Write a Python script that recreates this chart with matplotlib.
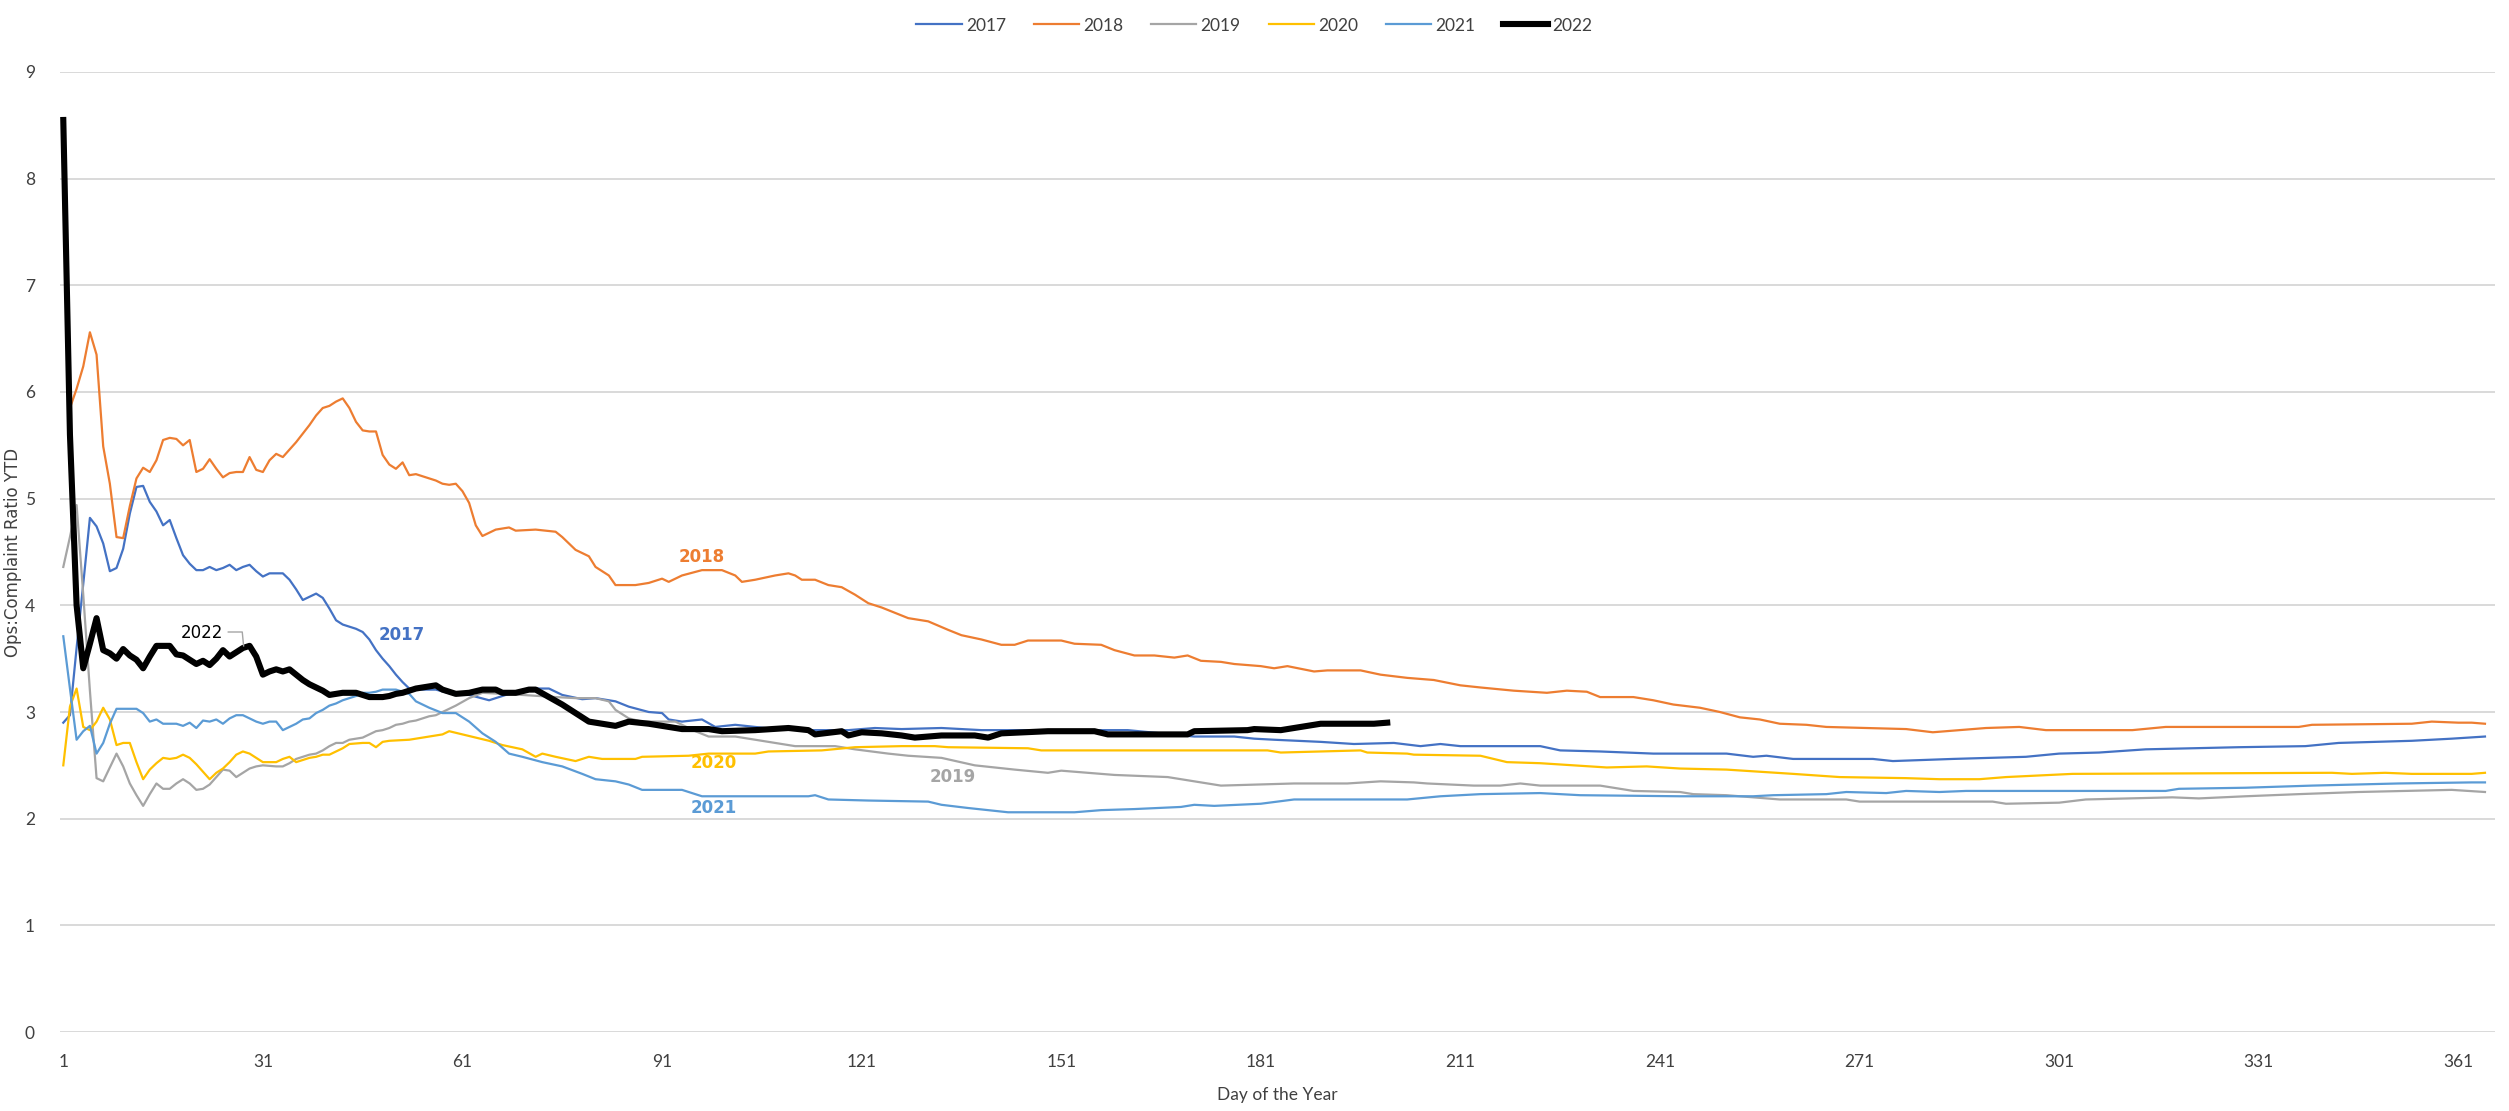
import matplotlib
matplotlib.use('Agg')
import matplotlib.pyplot as plt

# Series colours (Excel default palette)
colors = {'2017': '#4472C4', '2018': '#ED7D31', '2019': '#A5A5A5',
          '2020': '#FFC000', '2021': '#5B9BD5', '2022': '#000000'}

# Values (day of year, ratio)
days_2017 = [1, 2, 3, 4, 5, 6, 7, 8, 9, 10, 11, 12, 13, 14, 15, 16, 17, 18, 19, 20,
             21, 22, 23, 24, 25, 26, 27, 28, 29, 30, 31, 32, 33, 34, 35, 36, 37, 38, 39, 40,
             41, 42, 43, 44, 45, 46, 47, 48, 49, 50, 51, 52, 53, 55, 57, 60, 62, 65, 67, 69,
             72, 74, 76, 79, 81, 84, 86, 89, 91, 92, 94, 97, 99, 102, 105, 108, 113, 119, 123, 127,
             133, 139, 145, 161, 171, 177, 180, 183, 190, 195, 201, 205, 208, 211, 217, 223, 226, 232, 240, 251,
             255, 257, 261, 273, 276, 285, 296, 301, 307, 314, 328, 338, 343, 354, 360, 365]
vals_2017 = [2.90, 2.97, 3.60, 4.20, 4.82, 4.74, 4.58, 4.32, 4.35, 4.53, 4.86, 5.11, 5.12, 4.97, 4.88, 4.75, 4.80, 4.63, 4.47, 4.39,
             4.33, 4.33, 4.36, 4.33, 4.35, 4.38, 4.33, 4.36, 4.38, 4.32, 4.27, 4.30, 4.30, 4.30, 4.24, 4.15, 4.05, 4.08, 4.11, 4.07,
             3.97, 3.86, 3.82, 3.80, 3.78, 3.75, 3.68, 3.58, 3.50, 3.43, 3.35, 3.28, 3.22, 3.21, 3.21, 3.16, 3.16, 3.11, 3.15, 3.19,
             3.22, 3.22, 3.16, 3.12, 3.13, 3.10, 3.05, 3.00, 2.99, 2.93, 2.91, 2.93, 2.86, 2.88, 2.86, 2.84, 2.83, 2.83, 2.85, 2.84,
             2.85, 2.83, 2.83, 2.83, 2.77, 2.77, 2.75, 2.74, 2.72, 2.70, 2.71, 2.68, 2.70, 2.68, 2.68, 2.68, 2.64, 2.63, 2.61, 2.61,
             2.58, 2.59, 2.56, 2.56, 2.54, 2.56, 2.58, 2.61, 2.62, 2.65, 2.67, 2.68, 2.71, 2.73, 2.75, 2.77]

days_2018 = [1, 2, 3, 4, 5, 6, 7, 8, 9, 10, 11, 12, 13, 14, 15, 16, 17, 18, 19, 20,
             21, 22, 23, 24, 25, 26, 27, 28, 29, 30, 31, 32, 33, 34, 35, 36, 37, 38, 39, 40,
             41, 42, 43, 44, 45, 46, 47, 48, 49, 50, 51, 52, 53, 54, 55, 56, 57, 58, 59, 60,
             61, 62, 63, 64, 65, 66, 68, 69, 72, 75, 76, 78, 80, 81, 83, 84, 87, 89, 91, 92,
             94, 97, 100, 102, 103, 105, 108, 110, 111, 112, 114, 116, 118, 120, 122, 124, 126, 128, 131, 134,
             136, 139, 142, 144, 146, 151, 153, 157, 159, 162, 165, 168, 170, 172, 175, 177, 179, 181, 183, 185,
             189, 191, 196, 199, 203, 207, 211, 214, 219, 224, 227, 230, 232, 237, 240, 243, 247, 250, 253, 256,
             259, 263, 266, 272, 278, 282, 286, 290, 295, 299, 312, 317, 337, 339, 354, 357, 361, 363, 365]
vals_2018 = [7.90, 5.85, 6.03, 6.24, 6.56, 6.35, 5.49, 5.14, 4.64, 4.63, 4.93, 5.19, 5.29, 5.25, 5.36, 5.55, 5.57, 5.56, 5.50, 5.55,
             5.25, 5.28, 5.37, 5.28, 5.20, 5.24, 5.25, 5.25, 5.39, 5.27, 5.25, 5.36, 5.42, 5.39, 5.46, 5.53, 5.61, 5.69, 5.78, 5.85,
             5.87, 5.91, 5.94, 5.85, 5.72, 5.64, 5.63, 5.63, 5.41, 5.32, 5.28, 5.34, 5.22, 5.23, 5.21, 5.19, 5.17, 5.14, 5.13, 5.14,
             5.07, 4.96, 4.75, 4.65, 4.68, 4.71, 4.73, 4.70, 4.71, 4.69, 4.64, 4.52, 4.46, 4.36, 4.28, 4.19, 4.19, 4.21, 4.25, 4.22,
             4.28, 4.33, 4.33, 4.28, 4.22, 4.24, 4.28, 4.30, 4.28, 4.24, 4.24, 4.19, 4.17, 4.10, 4.02, 3.98, 3.93, 3.88, 3.85, 3.77,
             3.72, 3.68, 3.63, 3.63, 3.67, 3.67, 3.64, 3.63, 3.58, 3.53, 3.53, 3.51, 3.53, 3.48, 3.47, 3.45, 3.44, 3.43, 3.41, 3.43,
             3.38, 3.39, 3.39, 3.35, 3.32, 3.30, 3.25, 3.23, 3.20, 3.18, 3.20, 3.19, 3.14, 3.14, 3.11, 3.07, 3.04, 3.00, 2.95, 2.93,
             2.89, 2.88, 2.86, 2.85, 2.84, 2.81, 2.83, 2.85, 2.86, 2.83, 2.83, 2.86, 2.86, 2.88, 2.89, 2.91, 2.90, 2.90, 2.89]

days_2019 = [1, 2, 3, 4, 5, 6, 7, 8, 9, 10, 11, 12, 13, 14, 15, 16, 17, 18, 19, 20,
             21, 22, 23, 24, 25, 26, 27, 28, 29, 30, 31, 33, 34, 35, 36, 37, 38, 39, 40, 41,
             42, 43, 44, 45, 46, 47, 48, 49, 50, 51, 52, 53, 54, 55, 56, 57, 58, 59, 60, 62,
             64, 70, 75, 78, 81, 83, 84, 86, 88, 93, 96, 98, 102, 105, 111, 117, 120, 125, 128, 133,
             138, 144, 149, 151, 159, 167, 171, 175, 186, 194, 199, 204, 206, 213, 217, 220, 223, 232, 237, 244,
             246, 251, 259, 269, 271, 291, 293, 301, 305, 318, 322, 329, 337, 346, 360, 365]
vals_2019 = [4.36, 4.64, 4.94, 4.10, 3.20, 2.38, 2.35, 2.48, 2.61, 2.49, 2.33, 2.22, 2.12, 2.23, 2.33, 2.28, 2.28, 2.33, 2.37, 2.33,
             2.27, 2.28, 2.32, 2.39, 2.46, 2.45, 2.39, 2.43, 2.47, 2.49, 2.50, 2.49, 2.49, 2.52, 2.56, 2.58, 2.60, 2.61, 2.64, 2.68,
             2.71, 2.71, 2.74, 2.75, 2.76, 2.79, 2.82, 2.83, 2.85, 2.88, 2.89, 2.91, 2.92, 2.94, 2.96, 2.97, 3.00, 3.03, 3.06, 3.13,
             3.18, 3.16, 3.14, 3.13, 3.13, 3.10, 3.02, 2.94, 2.91, 2.91, 2.82, 2.77, 2.77, 2.74, 2.68, 2.68, 2.65, 2.61, 2.59, 2.57,
             2.50, 2.46, 2.43, 2.45, 2.41, 2.39, 2.35, 2.31, 2.33, 2.33, 2.35, 2.34, 2.33, 2.31, 2.31, 2.33, 2.31, 2.31, 2.26, 2.25,
             2.23, 2.22, 2.18, 2.18, 2.16, 2.16, 2.14, 2.15, 2.18, 2.20, 2.19, 2.21, 2.23, 2.25, 2.27, 2.25]

days_2020 = [1, 2, 3, 4, 5, 6, 7, 8, 9, 10, 11, 12, 13, 14, 15, 16, 17, 18, 19, 20,
             21, 22, 23, 24, 25, 26, 27, 28, 29, 30, 31, 33, 34, 35, 36, 37, 38, 39, 40, 41,
             42, 43, 44, 46, 47, 48, 49, 50, 53, 56, 58, 59, 61, 63, 65, 67, 70, 72, 73, 75,
             78, 80, 82, 87, 88, 95, 98, 105, 107, 115, 120, 127, 132, 134, 146, 148, 166, 182, 184, 196,
             197, 203, 204, 214, 218, 223, 228, 233, 239, 244, 251, 256, 261, 268, 278, 283, 289, 293, 303, 342,
             345, 350, 354, 363, 365]
vals_2020 = [2.50, 3.05, 3.22, 2.86, 2.83, 2.91, 3.04, 2.93, 2.69, 2.71, 2.71, 2.53, 2.37, 2.46, 2.52, 2.57, 2.56, 2.57, 2.60, 2.57,
             2.51, 2.44, 2.37, 2.43, 2.47, 2.53, 2.60, 2.63, 2.61, 2.57, 2.53, 2.53, 2.56, 2.58, 2.53, 2.55, 2.57, 2.58, 2.60, 2.60,
             2.63, 2.66, 2.70, 2.71, 2.71, 2.67, 2.72, 2.73, 2.74, 2.77, 2.79, 2.82, 2.79, 2.76, 2.73, 2.69, 2.65, 2.58, 2.61, 2.58,
             2.54, 2.58, 2.56, 2.56, 2.58, 2.59, 2.61, 2.61, 2.63, 2.64, 2.67, 2.68, 2.68, 2.67, 2.66, 2.64, 2.64, 2.64, 2.62, 2.64,
             2.62, 2.61, 2.60, 2.59, 2.53, 2.52, 2.50, 2.48, 2.49, 2.47, 2.46, 2.44, 2.42, 2.39, 2.38, 2.37, 2.37, 2.39, 2.42, 2.43,
             2.42, 2.43, 2.42, 2.42, 2.43]

days_2021 = [1, 2, 3, 4, 5, 6, 7, 8, 9, 10, 11, 12, 13, 14, 15, 16, 17, 18, 19, 20,
             21, 22, 23, 24, 25, 26, 27, 28, 29, 30, 31, 32, 33, 34, 35, 36, 37, 38, 39, 40,
             41, 42, 43, 44, 45, 46, 47, 48, 49, 51, 53, 54, 56, 58, 60, 62, 64, 66, 68, 70,
             73, 76, 79, 81, 84, 86, 88, 94, 97, 113, 114, 116, 122, 131, 133, 137, 143, 153, 157, 162,
             169, 171, 174, 181, 186, 203, 208, 214, 223, 229, 244, 255, 258, 266, 269, 275, 278, 283, 287, 317,
             319, 329, 339, 352, 363, 365]
vals_2021 = [3.71, 3.22, 2.74, 2.82, 2.87, 2.61, 2.71, 2.89, 3.03, 3.03, 3.03, 3.03, 2.99, 2.91, 2.93, 2.89, 2.89, 2.89, 2.87, 2.90,
             2.85, 2.92, 2.91, 2.93, 2.89, 2.94, 2.97, 2.97, 2.94, 2.91, 2.89, 2.91, 2.91, 2.83, 2.86, 2.89, 2.93, 2.94, 2.99, 3.02,
             3.06, 3.08, 3.11, 3.13, 3.15, 3.18, 3.18, 3.19, 3.21, 3.21, 3.17, 3.10, 3.04, 2.99, 2.99, 2.91, 2.80, 2.72, 2.61, 2.58,
             2.53, 2.49, 2.42, 2.37, 2.35, 2.32, 2.27, 2.27, 2.21, 2.21, 2.22, 2.18, 2.17, 2.16, 2.13, 2.10, 2.06, 2.06, 2.08, 2.09,
             2.11, 2.13, 2.12, 2.14, 2.18, 2.18, 2.21, 2.23, 2.24, 2.22, 2.21, 2.21, 2.22, 2.23, 2.25, 2.24, 2.26, 2.25, 2.26, 2.26,
             2.28, 2.29, 2.31, 2.33, 2.34, 2.34]

days_2022 = [1, 2, 3, 4, 5, 6, 7, 8, 9, 10, 11, 12, 13, 14, 15, 16, 17, 18, 19, 20,
             21, 22, 23, 24, 25, 26, 27, 28, 29, 30, 31, 32, 33, 34, 35, 36, 37, 38, 39, 40,
             41, 42, 43, 45, 46, 47, 49, 50, 51, 52, 53, 54, 56, 57, 58, 59, 60, 62, 64, 66,
             67, 69, 71, 72, 74, 76, 78, 80, 82, 84, 86, 89, 91, 94, 98, 100, 105, 110, 113, 114,
             118, 119, 121, 124, 127, 129, 133, 138, 140, 142, 149, 156, 158, 170, 171, 179, 180, 184, 187, 190,
             198, 200]
vals_2022 = [8.55, 5.60, 4.00, 3.41, 3.64, 3.88, 3.58, 3.55, 3.50, 3.59, 3.53, 3.49, 3.41, 3.52, 3.62, 3.62, 3.62, 3.54, 3.53, 3.49,
             3.45, 3.48, 3.44, 3.50, 3.58, 3.52, 3.56, 3.60, 3.62, 3.52, 3.35, 3.38, 3.40, 3.38, 3.40, 3.35, 3.30, 3.26, 3.23, 3.20,
             3.16, 3.17, 3.18, 3.18, 3.16, 3.14, 3.14, 3.15, 3.17, 3.18, 3.20, 3.22, 3.24, 3.25, 3.21, 3.19, 3.17, 3.18, 3.21, 3.21,
             3.18, 3.18, 3.21, 3.21, 3.14, 3.07, 2.99, 2.91, 2.89, 2.87, 2.91, 2.89, 2.87, 2.84, 2.84, 2.82, 2.83, 2.85, 2.83, 2.79,
             2.82, 2.78, 2.81, 2.80, 2.78, 2.76, 2.78, 2.78, 2.76, 2.80, 2.82, 2.82, 2.79, 2.79, 2.82, 2.83, 2.84, 2.83, 2.86, 2.89,
             2.89, 2.90]

series = [('2017', days_2017, vals_2017), ('2018', days_2018, vals_2018),
          ('2019', days_2019, vals_2019), ('2020', days_2020, vals_2020),
          ('2021', days_2021, vals_2021), ('2022', days_2022, vals_2022)]

# Data label positions (day, value) for each series
label_pos = {'2017': (51.8, 3.72), '2018': (96.9, 4.45), '2019': (134.7, 2.39),
             '2020': (98.7, 2.52), '2021': (98.7, 2.10), '2022': (21.8, 3.74)}

x_ticks = list(range(1, 366, 30))
y_ticks = list(range(0, 10))

plt.rcParams['font.family'] = ['Lato', 'DejaVu Sans']

fig = plt.figure(figsize=(25.09, 11.11), dpi=100)
ax = fig.add_axes([0.0239, 0.0711, 0.9705, 0.8641])

for name, d, v in series:
    lw = 4.4 if name == '2022' else 1.6
    ax.plot(d, v, color=colors[name], lw=lw, label=name,
            solid_joinstyle='round', zorder=3 if name == '2022' else 2)

# Data labels
for name, (lx, ly) in label_pos.items():
    ax.text(lx, ly, name, color=colors[name], fontsize=12,
            family='DejaVu Sans',
            fontweight='normal' if name == '2022' else 'bold',
            ha='center', va='center', zorder=4)

# Leader line from the 2022 label to its point
ax.plot([25.8, 27.9, 28.1], [3.75, 3.75, 3.62], color='#A5A5A5', lw=1.0, zorder=4)

ax.set_xlim(0.5, 366.5)
ax.set_ylim(0, 9)
ax.set_xticks(x_ticks)
ax.set_yticks(y_ticks)
ax.tick_params(axis='both', length=0, labelsize=12.5, colors='#404040')
ax.tick_params(axis='y', pad=18)
ax.tick_params(axis='x', pad=16)
ax.grid(axis='y', color='#D9D9D9', lw=1.4)
ax.set_axisbelow(True)
for s in ax.spines.values():
    s.set_visible(False)

ax.set_xlabel('Day of the Year', fontsize=12.5, color='#404040', labelpad=12)
fig.text(0.0052, 0.5 * (0.0711 + 0.9352), 'Ops:Complaint Ratio YTD', rotation=90,
         ha='center', va='center', fontsize=12, color='#404040', family='DejaVu Sans')

fig.legend(loc='center', bbox_to_anchor=(0.5, 0.977), ncol=6, frameon=False,
           fontsize=12.5, handlelength=2.6, handletextpad=0.25, columnspacing=1.6,
           labelcolor='#404040')

plt.savefig('out.png', dpi=100)
